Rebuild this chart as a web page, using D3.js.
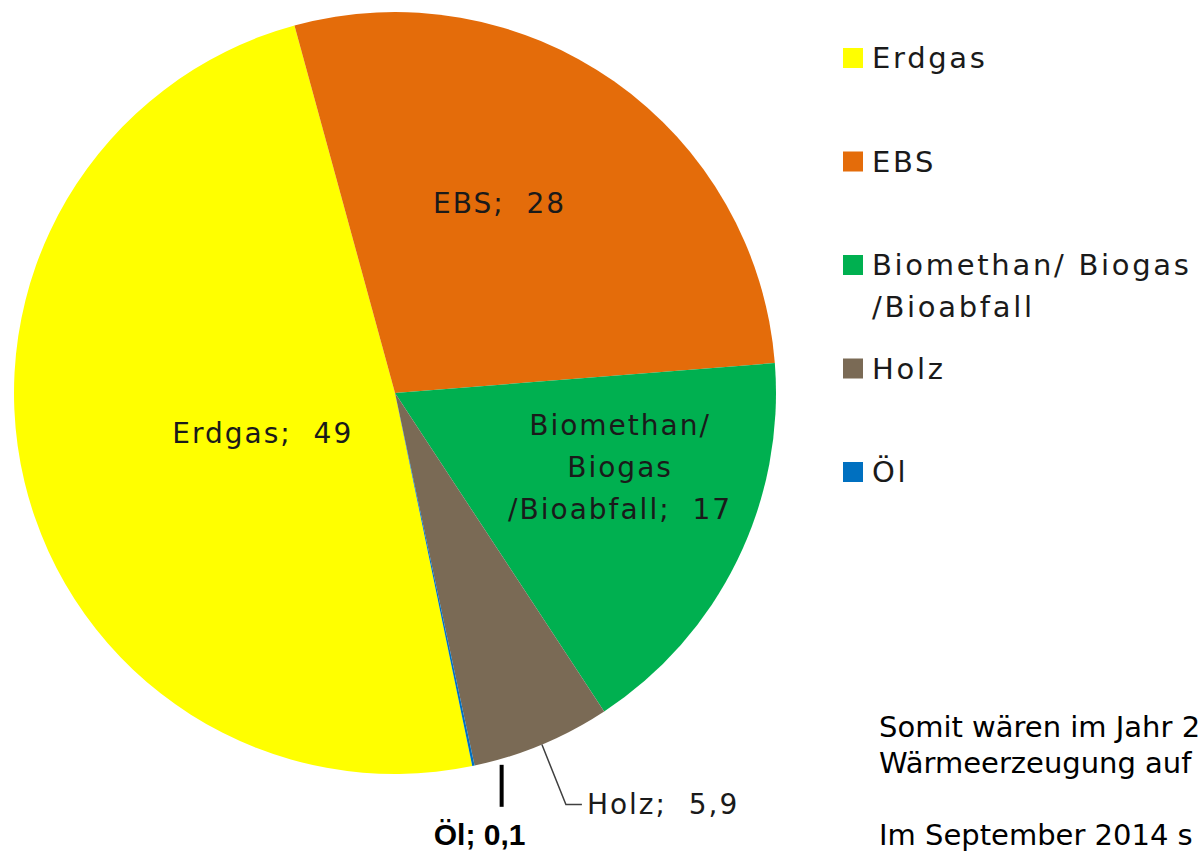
<!DOCTYPE html>
<html>
<head>
<meta charset="utf-8">
<script src="https://cdn.jsdelivr.net/npm/d3@7"></script>
<style>
  body { margin: 0; background: #fff; overflow: hidden; }
  svg { display: block; }
  text { white-space: pre; }
</style>
</head>
<body>
<svg></svg>
<script>
// data
var categories = ["Erdgas", "EBS", "Biomethan/ Biogas /Bioabfall", "Holz", "Öl"];
var values = [49, 28, 17, 5.9, 0.1];
var valueLabels = ["49", "28", "17", "5,9", "0,1"];
var colors = ["#FFFF00", "#E46C0A", "#00B050", "#7A6A55", "#0070C0"];
var legendLines = [["Erdgas"], ["EBS"], ["Biomethan/ Biogas", "/Bioabfall"], ["Holz"], ["Öl"]];
var labelLines = [["Erdgas;  49"], ["EBS;  28"], ["Biomethan/", "Biogas", "/Bioabfall;  17"], ["Holz;  5,9"], ["Öl; 0,1"]];
var noteLines = ["Somit wären im Jahr 2", "Wärmeerzeugung auf", "", "Im September 2014 s"];

var width = 1203, height = 853;
var cx = 395, cy = 393, radius = 381;
var startDeg = 168.3;

var svg = d3.select("svg")
	.attr("width", width)
	.attr("height", height);

var pie = d3.pie()
	.sort(null)
	.value(function(d) { return d; })
	.startAngle(startDeg * Math.PI / 180)
	.endAngle(startDeg * Math.PI / 180 + 2 * Math.PI);

var arcs = pie(values);

var arc = d3.arc()
	.innerRadius(0)
	.outerRadius(radius);

var g = svg.append("g")
	.attr("transform", "translate(" + cx + "," + cy + ")");

// slices
g.selectAll("path")
	.data(arcs)
	.enter()
	.append("path")
	.attr("d", arc)
	.attr("fill", function(d, i) { return colors[i]; });

// labels inside (offsets from centroid, last line baseline)
var labelOffset = [[53, 6], [-5, -24], [54, 42]];
var fontLabel = "'DejaVu Sans', Verdana, sans-serif";

[0, 1, 2].forEach(function(i) {
	var c = arc.centroid(arcs[i]);
	var x = c[0] + labelOffset[i][0], y = c[1] + labelOffset[i][1];
	var lines = labelLines[i];
	var t = g.append("text")
		.attr("text-anchor", "middle")
		.attr("font-family", fontLabel)
		.attr("font-size", 28)
		.attr("letter-spacing", 2)
		.attr("fill", "#1a1a1a");
	lines.forEach(function(l, k) {
		t.append("tspan")
			.attr("x", x)
			.attr("y", y - (lines.length - 1) * 42 + k * 42)
			.text(l);
	});
});

// Holz leader line
var mid = (arcs[3].startAngle + arcs[3].endAngle) / 2;
var p0 = [Math.sin(mid) * radius, -Math.cos(mid) * radius];
var p1 = [p0[0] + 24, p0[1] + 60];
var p2 = [p1[0] + 16, p1[1]];
g.append("path")
	.attr("d", d3.line()([p0, p1, p2]))
	.attr("fill", "none")
	.attr("stroke", "#404040")
	.attr("stroke-width", 1.5);
g.append("text")
	.attr("x", p2[0] + 5)
	.attr("y", p2[1] + 9)
	.attr("font-family", fontLabel)
	.attr("font-size", 28)
	.attr("letter-spacing", 2)
	.attr("fill", "#1a1a1a")
	.text(labelLines[3][0]);

// Öl annotation
var midOl = (arcs[4].startAngle + arcs[4].endAngle) / 2;
var q = [Math.sin(midOl) * (radius + 1), -Math.cos(midOl) * (radius + 1)];
g.append("line")
	.attr("x1", q[0] + 28).attr("x2", q[0] + 28)
	.attr("y1", q[1] - 2).attr("y2", q[1] + 40)
	.attr("stroke", "#000")
	.attr("stroke-width", 4);
g.append("text")
	.attr("x", q[0] + 6)
	.attr("y", q[1] + 78)
	.attr("text-anchor", "middle")
	.attr("font-family", "'Liberation Sans', Arial, sans-serif")
	.attr("font-weight", "bold")
	.attr("font-size", 30)
	.attr("fill", "#000")
	.text(labelLines[4][0]);

// legend
var legend = svg.append("g")
	.attr("transform", "translate(843,48)");
legendLines.forEach(function(lines, i) {
	var y = i * 103.5;
	legend.append("rect")
		.attr("x", 0).attr("y", y)
		.attr("width", 20).attr("height", 20)
		.attr("fill", colors[i]);
	var t = legend.append("text")
		.attr("font-family", fontLabel)
		.attr("font-size", 29)
		.attr("letter-spacing", 2.7)
		.attr("fill", "#1a1a1a");
	lines.forEach(function(l, k) {
		t.append("tspan")
			.attr("x", 29)
			.attr("y", y + 20 + k * 42)
			.text(l);
	});
});

// cut-off slide text
var note = svg.append("text")
	.attr("font-family", fontLabel)
	.attr("font-size", 29)
	.attr("fill", "#000");
noteLines.forEach(function(l, k) {
	note.append("tspan")
		.attr("x", 879)
		.attr("y", 737 + k * 36)
		.text(l);
});
</script>
</body>
</html>
